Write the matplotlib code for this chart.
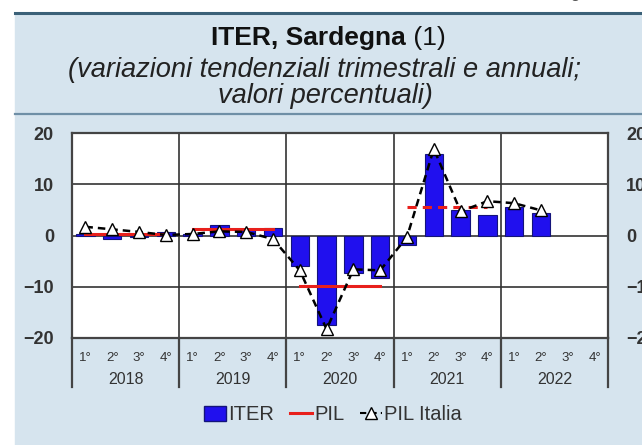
import matplotlib.pyplot as plt
import numpy as np
from matplotlib.patches import Rectangle
from matplotlib.lines import Line2D
from matplotlib.patches import Patch
import matplotlib.transforms as mtransforms

plt.rcParams['font.family'] = ['Liberation Sans', 'DejaVu Sans']

# dati
years = ['2018', '2019', '2020', '2021', '2022']
quarters = ['1°', '2°', '3°', '4°']
iter_q = [0.3, -0.6, -0.3, 0.6, 0.3, 2.0, 1.0, 1.4,
          -6.0, -17.5, -7.4, -8.2, -1.9, 15.9, 4.9, 4.0, 5.5, 4.3]
pil_italia = [1.7, 1.2, 0.7, 0.1, 0.3, 0.8, 0.7, -0.7,
              -6.8, -18.3, -6.6, -6.8, -0.3, 16.9, 4.7, 6.7, 6.3, 4.9]
pil_annual = [0.2, 1.2, -9.8, 5.6]

panel = '#d6e4ee'
dark = '#333333'

fig = plt.figure(figsize=(6.42, 4.45), dpi=100)
W, H = 642, 445

# pannello azzurro
fig.patches.append(Rectangle((15 / W, 0), 1 - 15 / W, 1 - 13 / H,
                             transform=fig.transFigure, color=panel, zorder=-5))
fig.lines.append(Line2D([15 / W, 1], [1 - 13 / H] * 2, transform=fig.transFigure,
                        color='#3b6178', lw=2.2))
fig.lines.append(Line2D([15 / W, 1], [1 - 114 / H] * 2, transform=fig.transFigure,
                        color='#6f8fa6', lw=1.6))
fig.text(0.985, 1.015, 'Figura 2.3', ha='right', va='center', fontsize=12, color='#555555')

# titolo: parte in grassetto + "(1)" normale, centrati insieme
renderer = fig.canvas.get_renderer()
t1 = fig.text(0, 1 - 38 / H, 'ITER, Sardegna', ha='left', va='center',
              fontsize=19, fontweight='bold', color='#111111')
t2 = fig.text(0, 1 - 38 / H, ' (1)', ha='left', va='center', fontsize=19, color='#111111')
w1 = t1.get_window_extent(renderer).width
w2 = t2.get_window_extent(renderer).width
x0 = 328 - (w1 + w2) / 2
t1.set_x(x0 / W)
t2.set_x((x0 + w1) / W)

fig.text(325 / W, 1 - 70 / H, '(variazioni tendenziali trimestrali e annuali;',
         ha='center', va='center', fontsize=19.6, style='italic', color='#222222')
fig.text(325 / W, 1 - 96 / H, 'valori percentuali)',
         ha='center', va='center', fontsize=19.6, style='italic', color='#222222')

ax = fig.add_axes([72 / W, 1 - 338 / H, (608 - 72) / W, (338 - 133) / H])
ax.set_facecolor('white')

x = np.arange(len(years) * 4)
ax.bar(x[:len(iter_q)], iter_q, width=0.68, color='#2010ee', edgecolor='#14147a',
       linewidth=0.8, zorder=3)

for i, v in enumerate(pil_annual):
    ls = '-' if i < 3 else (0, (3, 2))
    ax.plot([4 * i, 4 * i + 3], [v, v], color='#e8201c', lw=2.2, ls=ls, zorder=4)

ax.plot(x[:len(pil_italia)], pil_italia, color='black', ls=(0, (3, 2)), lw=1.8,
        marker='^', markersize=9, markerfacecolor='white', markeredgecolor='black',
        markeredgewidth=1.0, zorder=5)

ax.set_xlim(-0.5, len(years) * 4 - 0.5)
ax.set_ylim(-20, 20)
ax.set_yticks([-20, -10, 0, 10, 20])
ax.yaxis.grid(True, color='#333333', lw=1.2, zorder=1)
for b in range(1, len(years)):
    ax.axvline(4 * b - 0.5, color='#333333', lw=1.2, zorder=1)
ax.set_axisbelow(True)
for s in ax.spines.values():
    s.set_color('#444444')
    s.set_linewidth(1.6)

ax.tick_params(axis='y', length=0, pad=13, labelsize=13, labelcolor=dark,
               labelright=True)
for t in ax.get_yticklabels():
    t.set_fontweight('bold')
ax.set_xticks(x)
ax.set_xticklabels(quarters * len(years))
ax.tick_params(axis='x', length=0, pad=10, labelsize=9.5, labelcolor=dark)

trans = mtransforms.blended_transform_factory(ax.transData, ax.transAxes)
for b in range(len(years) + 1):
    ax.plot([4 * b - 0.5] * 2, [0, -49 / 205], transform=trans, color='#444444',
            lw=1.6, clip_on=False)
for i, yr in enumerate(years):
    ax.text(4 * i + 1.5, -41 / 205, yr, transform=trans, ha='center', va='center',
            fontsize=11.5, color=dark)

handles = [Patch(facecolor='#2010ee', edgecolor='#14147a'),
           Line2D([], [], color='#e8201c', lw=2.2),
           Line2D([], [], color='black', ls=(0, (3, 2)), lw=1.5, marker='^', markersize=8,
                  markerfacecolor='white', markeredgecolor='black')]
fig.legend(handles, ['ITER', 'PIL', 'PIL Italia'], loc='center', ncol=3,
           bbox_to_anchor=(333 / W, 1 - 415 / H), frameon=False, fontsize=14.5,
           handlelength=1.1, handletextpad=0.1, columnspacing=0.8,
           labelcolor=dark)

plt.savefig('out.png', dpi=100)
